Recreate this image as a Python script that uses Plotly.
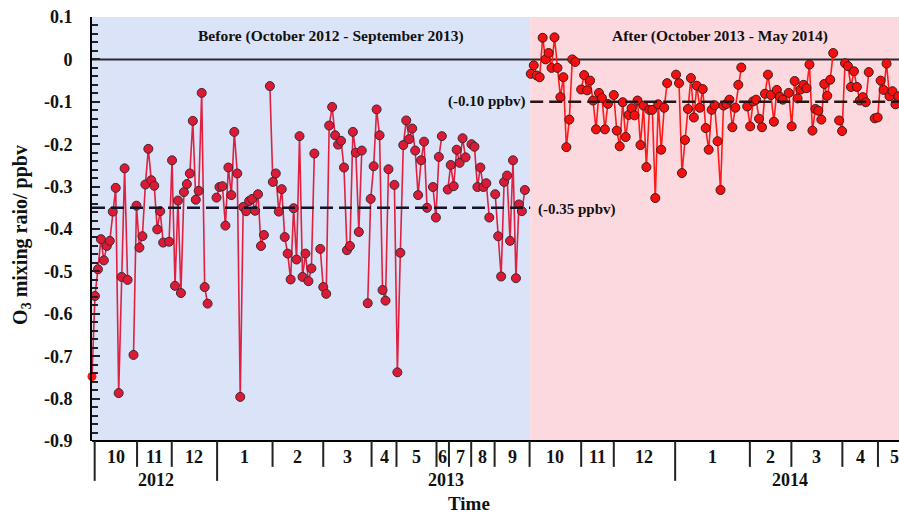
import plotly.graph_objects as go

# Daily O3 difference (ppbv) by sample number; None marks days without data
before_vals = [
    -0.748, -0.558, -0.495, -0.424, -0.474, -0.440, -0.428, -0.359, -0.303, -0.787,
    -0.513, -0.257, -0.520, None, -0.697, -0.345, -0.444, -0.417, -0.295, -0.211,
    -0.285, -0.298, -0.401, -0.358, -0.432, None, -0.430, -0.238, -0.534, -0.333,
    -0.551, -0.313, -0.294, -0.269, -0.145, -0.331, -0.310, -0.079, -0.537, -0.576,
    None, None, -0.326, -0.301, -0.299, -0.392, -0.255, -0.320, -0.171, -0.269,
    -0.796, -0.348, -0.358, -0.334, -0.329, -0.357, -0.318, -0.440, -0.414, None,
    -0.063, -0.289, -0.269, -0.359, -0.306, -0.419, -0.458, -0.519, -0.351, -0.472,
    -0.181, -0.513, -0.458, -0.523, -0.493, -0.222, None, -0.447, -0.537, -0.553,
    -0.156, -0.112, -0.179, -0.201, -0.192, -0.255, -0.450, -0.440, -0.171, -0.220,
    -0.407, -0.215, None, -0.575, -0.329, -0.252, -0.118, -0.179, -0.544, -0.569,
    -0.259, None, -0.296, -0.738, -0.456, -0.202, -0.144, -0.188, -0.163, -0.215,
    -0.320, -0.238, -0.194, -0.350, None, -0.301, -0.373, -0.230, -0.181, None,
    -0.307, -0.249, -0.299, -0.213, -0.244, -0.186, -0.231, None, -0.200, -0.206,
    -0.301, -0.255, -0.301, -0.292, -0.373, None, -0.318, -0.417, -0.512, -0.289,
    -0.274, -0.428, -0.238, -0.516, -0.342, -0.358, -0.308,
]

after_start = 148
after_vals = [
    -0.034, -0.014, -0.038, -0.042, 0.051, 0.000, 0.015, -0.020, 0.052, -0.020,
    -0.089, -0.042, -0.207, -0.142, 0.000, -0.006, None, -0.071, -0.037, -0.073,
    -0.050, -0.097, -0.165, -0.079, -0.091, -0.165, -0.105, None, -0.084, -0.168,
    -0.205, -0.101, -0.183, -0.131, -0.115, -0.132, -0.097, -0.202, -0.109, -0.254,
    -0.119, -0.119, -0.327, -0.106, -0.213, -0.114, -0.056, None, None, -0.036,
    -0.056, -0.268, -0.190, -0.117, -0.044, -0.137, -0.062, -0.114, -0.070, -0.162,
    -0.213, -0.119, -0.108, -0.193, -0.308, -0.109, -0.105, -0.095, -0.160, -0.114,
    -0.060, -0.019, None, -0.111, -0.158, -0.099, -0.095, -0.140, -0.160, -0.081,
    -0.036, -0.084, -0.147, -0.072, -0.088, -0.095, None, -0.079, -0.158, -0.051,
    -0.092, -0.071, -0.060, -0.068, -0.012, -0.168, -0.117, -0.121, -0.142, -0.058,
    -0.086, -0.048, 0.015, None, -0.144, -0.169, -0.009, -0.016, -0.065, -0.028,
    -0.065, -0.097, -0.089, -0.101, -0.030, None, -0.139, -0.137, -0.050, -0.072,
    -0.010, -0.087, -0.075, -0.106, -0.087,
]

# Period means (ppbv)
mean_before = -0.35
mean_after = -0.10

# Month boundaries on the sample axis, with labels
month_edges = [0.9, 15.2, 26.9, 42.2, 60.9, 78.0, 94.3, 102.7, 116.2, 120.4,
               127.9, 135.8, 147.6, 165.0, 176.0, 196.7, 221.9, 235.9, 253.1,
               265.1, 276.1]
month_labels = ["10", "11", "12", "1", "2", "3", "4", "5", "6", "7", "8", "9",
                "10", "11", "12", "1", "2", "3", "4", "5"]
year_edges = [0.9, 42.2, 196.7, 274.5]
year_labels = ["2012", "2013", "2014"]
period_split = 147.8

y_tickvals = [0.1, 0, -0.1, -0.2, -0.3, -0.4, -0.5, -0.6, -0.7, -0.8, -0.9]
y_ticktext = ["0.1", "0", "-0.1", "-0.2", "-0.3", "-0.4", "-0.5", "-0.6",
              "-0.7", "-0.8", "-0.9"]

x_end = 272.2
SERIF = "Liberation Serif, Times New Roman, serif"
BOLD = dict(family=SERIF, color="#111111", weight="bold")

# the opening sample is drawn plain red without an outline
n_before = len(before_vals)
before_fill = ["#ff1010"] + ["#dc1a36"] * (n_before - 1)
before_edge = [0] + [1] * (n_before - 1)

fig = go.Figure()

fig.add_trace(go.Scatter(
    x=list(range(n_before)), y=before_vals, mode="lines+markers",
    line=dict(color="#e0203f", width=1.6),
    marker=dict(size=9, color=before_fill,
                line=dict(color="#3b2a33", width=before_edge)),
    cliponaxis=False, showlegend=False, hoverinfo="skip",
))
fig.add_trace(go.Scatter(
    x=[after_start + i for i in range(len(after_vals))], y=after_vals,
    mode="lines+markers",
    line=dict(color="#ff1a1a", width=1.6),
    marker=dict(size=9, color="#f70f0f", line=dict(color="#3b1c1c", width=1)),
    showlegend=False, hoverinfo="skip",
))

shapes = []
# shaded periods
shapes.append(dict(type="rect", xref="x", yref="paper", x0=-1, x1=period_split,
                   y0=0, y1=1, fillcolor="#dae3f8", line=dict(width=0), layer="below"))
shapes.append(dict(type="rect", xref="x", yref="paper", x0=period_split, x1=x_end + 5,
                   y0=0, y1=1, fillcolor="#fcd9de", line=dict(width=0), layer="below"))
# zero line
shapes.append(dict(type="line", xref="paper", yref="y", x0=0, x1=1, y0=0, y1=0,
                   line=dict(color="#2a2a33", width=2), layer="below"))
# period mean lines
shapes.append(dict(type="line", xref="x", yref="y", x0=0, x1=period_split,
                   y0=mean_before, y1=mean_before,
                   line=dict(color="#141428", width=2.5, dash="13px,6px")))
shapes.append(dict(type="line", xref="x", yref="y", x0=period_split, x1=x_end + 5,
                   y0=mean_after, y1=mean_after,
                   line=dict(color="#281414", width=2.5, dash="13px,6px")))
# bottom axis line
shapes.append(dict(type="line", xref="paper", yref="paper", x0=0, x1=1, y0=0, y1=0,
                   line=dict(color="black", width=2)))
# month / year separators under the axis
for e in month_edges:
    long_tick = e in year_edges
    shapes.append(dict(type="line", xref="x", yref="paper", x0=e, x1=e, y0=0,
                       y1=-0.094 if long_tick else -0.061,
                       line=dict(color="#222222", width=2)))

annotations = []
for i, lab in enumerate(month_labels):
    annotations.append(dict(x=(month_edges[i] + month_edges[i + 1]) / 2, y=-0.037,
                            xref="x", yref="paper", text=lab, showarrow=False,
                            xanchor="center", yanchor="middle",
                            font=dict(size=18, **BOLD)))
for i, lab in enumerate(year_labels):
    annotations.append(dict(x=(year_edges[i] + year_edges[i + 1]) / 2, y=-0.093,
                            xref="x", yref="paper", text=lab, showarrow=False,
                            xanchor="center", yanchor="middle",
                            font=dict(size=18, **BOLD)))
annotations.append(dict(x=0.467, y=-0.148, xref="paper", yref="paper",
                        text="Time", showarrow=False, xanchor="center",
                        yanchor="middle", font=dict(size=19, **BOLD)))
annotations.append(dict(x=0, y=0.486, xref="paper", yref="paper", xshift=-70,
                        text="O<sub>3</sub> mixing raio/ ppbv", textangle=-90,
                        showarrow=False, xanchor="center", yanchor="middle",
                        font=dict(size=20, **BOLD)))
annotations.append(dict(x=80.5, y=0.056, xref="x", yref="y",
                        text="Before (October 2012 - September 2013)",
                        showarrow=False, font=dict(size=15.5, **BOLD)))
annotations.append(dict(x=211.7, y=0.056, xref="x", yref="y",
                        text="After (October 2013 - May 2014)",
                        showarrow=False, font=dict(size=15.5, **BOLD)))
annotations.append(dict(x=149.7, y=mean_before - 0.004, xref="x", yref="y",
                        text="(-0.35 ppbv)", xanchor="left", showarrow=False,
                        font=dict(size=15, **BOLD)))
annotations.append(dict(x=147.1, y=mean_after + 0.001, xref="x", yref="y",
                        text="(-0.10 ppbv)", xanchor="right", showarrow=False,
                        font=dict(size=15, **BOLD)))

fig.update_layout(
    width=899, height=514,
    margin=dict(l=92, r=0, t=17, b=73),
    paper_bgcolor="white", plot_bgcolor="white",
    shapes=shapes, annotations=annotations,
    xaxis=dict(range=[0, x_end], showgrid=False, zeroline=False, showticklabels=False,
               ticks="", showline=False, fixedrange=True),
    yaxis=dict(range=[-0.9, 0.1], showgrid=False, zeroline=False,
               tickmode="array", tickvals=y_tickvals, ticktext=y_ticktext,
               ticks="inside", ticklen=8, tickwidth=2, tickcolor="#222222",
               minor=dict(tickmode="linear", tick0=0, dtick=0.02, ticks="inside",
                          ticklen=6, tickwidth=1.5, tickcolor="#222222"),
               showline=True, linecolor="black", linewidth=2,
               ticklabelstandoff=14,
               tickfont=dict(size=18, **BOLD)),
)

fig.write_html("out.html")
